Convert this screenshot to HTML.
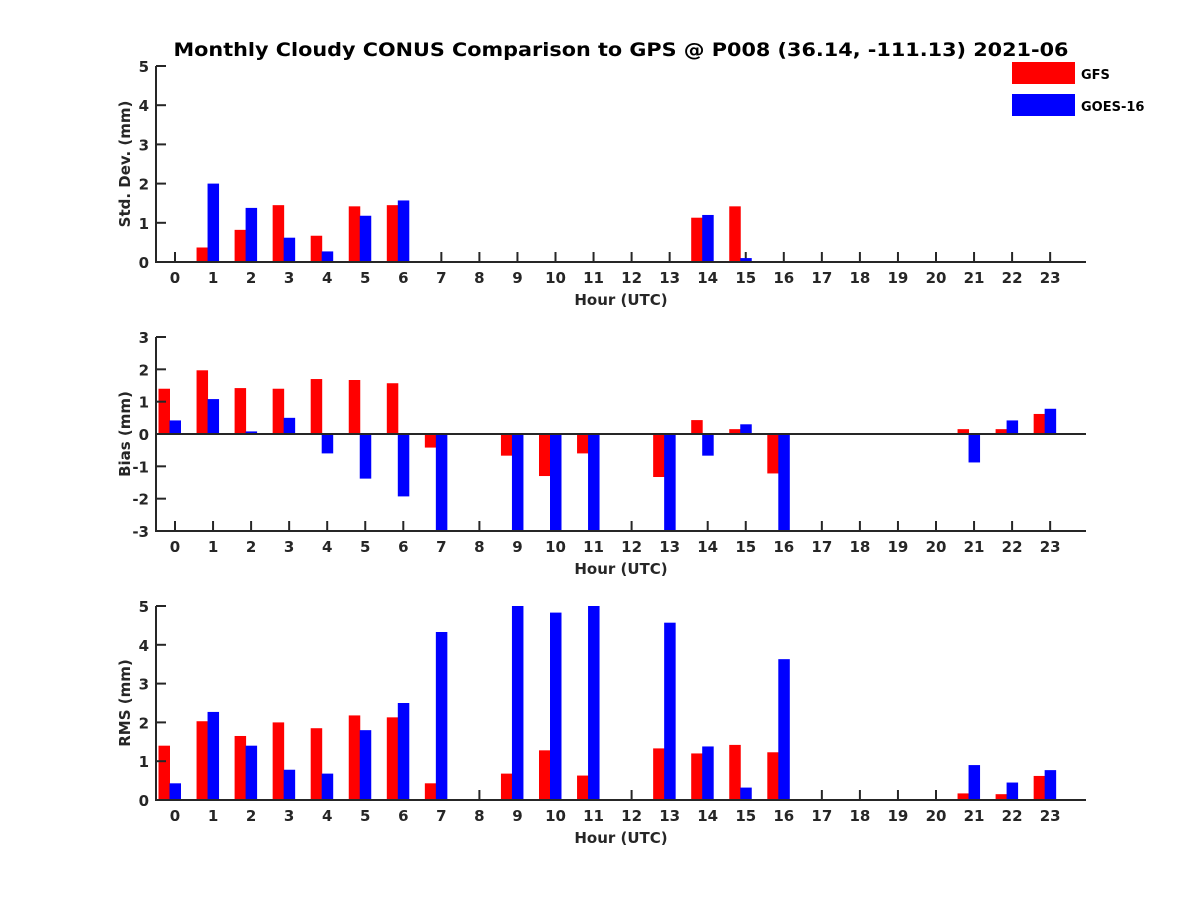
<!DOCTYPE html>
<html><head><meta charset="utf-8"><style>
body{margin:0;background:#fff;}
svg text{font-family:"DejaVu Sans","Liberation Sans",sans-serif;font-weight:bold;fill:#262626;}
</style></head><body>
<svg id="chart" width="1200" height="900" xmlns="http://www.w3.org/2000/svg">
<rect width="1200" height="900" fill="#fff"/>
<text x="621" y="56" text-anchor="middle" font-size="19" textLength="895" lengthAdjust="spacingAndGlyphs" style="fill:#000">Monthly Cloudy CONUS Comparison to GPS @ P008 (36.14, -111.13) 2021-06</text>
<g>
<rect x="1012" y="62" width="63" height="22" fill="#ff0000"/>
<text x="1081" y="79" font-size="13" style="fill:#000">GFS</text>
<rect x="1012" y="94" width="63" height="22" fill="#0000ff"/>
<text x="1081" y="111" font-size="13" style="fill:#000">GOES-16</text>
</g>
</svg>
<script>
const hours = [0,1,2,3,4,5,6,7,8,9,10,11,12,13,14,15,16,17,18,19,20,21,22,23];
const stdGFS  = [null,0.37,0.82,1.45,0.67,1.42,1.45,null,null,null,null,null,null,null,1.13,1.42,null,null,null,null,null,null,null,null];
const stdGOES = [null,2.0,1.38,0.62,0.27,1.18,1.57,null,null,null,null,null,null,null,1.2,0.1,null,null,null,null,null,null,null,null];
const biasGFS  = [1.4,1.97,1.42,1.4,1.7,1.67,1.57,-0.42,null,-0.67,-1.3,-0.6,null,-1.33,0.43,0.15,-1.22,null,null,null,null,0.15,0.15,0.62];
const biasGOES = [0.42,1.08,0.08,0.5,-0.6,-1.38,-1.93,-3.5,null,-3.5,-3.5,-3.5,null,-3.5,-0.67,0.3,-3.5,null,null,null,null,-0.88,0.42,0.78];
const rmsGFS  = [1.4,2.03,1.65,2.0,1.85,2.18,2.13,0.43,null,0.68,1.28,0.63,null,1.33,1.2,1.42,1.23,null,null,null,null,0.17,0.15,0.62];
const rmsGOES = [0.43,2.27,1.4,0.78,0.68,1.8,2.5,4.33,null,5.5,4.83,5.5,null,4.57,1.38,0.32,3.63,null,null,null,null,0.9,0.45,0.77];
const stdTicks = [0,1,2,3,4,5];
const biasTicks = [-3,-2,-1,0,1,2,3];
const rmsTicks = [0,1,2,3,4,5];

const NS = 'http://www.w3.org/2000/svg';
const svg = document.getElementById('chart');
const X0 = 156, X1 = 1086;
function xPos(h){ return 175 + h * 38.05; }
function mk(tag, attrs, parent){ const e = document.createElementNS(NS, tag); for (const k in attrs) e.setAttribute(k, attrs[k]); (parent||svg).appendChild(e); return e; }

function panel(name, top, bot, ymin, ymax, ticks, g1, g2, ylabel, zeroLine){
  const g = mk('g', {});
  
  
  const y = v => bot - (v - ymin) / (ymax - ymin) * (bot - top);
  const cid = 'clip-' + name;
  const cp = mk('clipPath', {id: cid}, g);
  mk('rect', {x: X0, y: top, width: X1 - X0, height: bot - top}, cp);
  hours.forEach(h => {
    const t = mk('line', {x1: xPos(h), x2: xPos(h), y1: bot, y2: bot - 10, stroke: '#262626', 'stroke-width': 2}, g);
    
    
    const l = mk('text', {x: xPos(h), y: bot + 21, 'text-anchor': 'middle', 'font-size': 15}, g);
    
    
    l.textContent = h;
  });
  const bars = mk('g', {'clip-path': 'url(#' + cid + ')'}, g);
  const y0 = y(Math.max(ymin, 0));
  hours.forEach((h, i) => {
    [[g1, '#ff0000', -16.5, 'gfs'], [g2, '#0000ff', -5.5, 'goes']].forEach(([arr, col, off, nm]) => {
      const v = arr[i];
      if (v === null) return;
      const yv = y(v);
      const r = mk('rect', {x: xPos(h) + off, y: Math.min(yv, y0), width: 11.5, height: Math.abs(yv - y0), fill: col}, bars);
      
      
    });
  });
  ticks.forEach(t => {
    const tl = mk('line', {x1: X0, x2: X0 + 10, y1: y(t), y2: y(t), stroke: '#262626', 'stroke-width': 2}, g);
    
    
    const l = mk('text', {x: X0 - 7, y: y(t) + 6, 'text-anchor': 'end', 'font-size': 15}, g);
    
    
    l.textContent = t;
  });
  if (zeroLine) {
    const z = mk('line', {x1: X0, x2: X1, y1: y(0), y2: y(0), stroke: '#262626', 'stroke-width': 2}, g);
    
    
  }
  const ax = mk('polyline', {points: `${X0},${top} ${X0},${bot} ${X1},${bot}`, fill: 'none', stroke: '#262626', 'stroke-width': 2}, g);
  
  
  const xl = mk('text', {x: 621, y: bot + 43, 'text-anchor': 'middle', 'font-size': 15}, g);
  
  
  xl.textContent = 'Hour (UTC)';
  const cy = (top + bot) / 2;
  const yl = mk('text', {x: 130, y: cy, 'text-anchor': 'middle', 'font-size': 15, transform: `rotate(-90 130 ${cy})`}, g);
  
  
  yl.textContent = ylabel;
}
panel('std', 66, 262, 0, 5, stdTicks, stdGFS, stdGOES, 'Std. Dev. (mm)', false);
panel('bias', 337, 531, -3, 3, biasTicks, biasGFS, biasGOES, 'Bias (mm)', true);
panel('rms', 606, 800, 0, 5, rmsTicks, rmsGFS, rmsGOES, 'RMS (mm)', false);
</script>
</body></html>
